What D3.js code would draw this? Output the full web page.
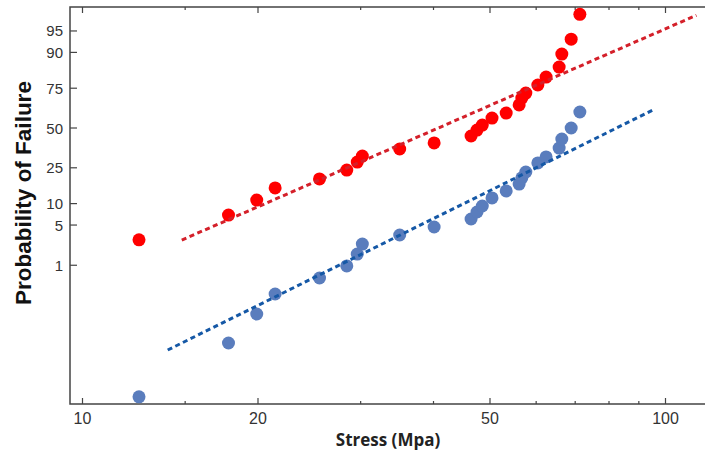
<!DOCTYPE html>
<html>
<head>
<meta charset="utf-8">
<script src="https://cdn.jsdelivr.net/npm/d3@7"></script>
<style>
body { margin: 0; background: #fff; }
svg { display: block; }
</style>
</head>
<body>
<svg id="chart" width="705" height="455"></svg>
<script>
// stress values (Mpa), shared by both series
var stress = [12.5, 17.8, 19.9, 21.4, 25.5, 28.4, 29.6, 30.2, 35.0, 40.1, 46.4, 47.5,
              48.5, 50.4, 53.3, 56.1, 56.7, 57.6, 60.4, 62.4, 65.7, 66.4, 68.9, 71.3];
// probability of failure, percent
var redProb = [2.9, 7.0, 11.1, 15.5, 19.4, 23.8, 28.2, 31.7, 36.1, 40.0, 44.6, 48.6,
               52.0, 56.7, 60.0, 65.2, 69.4, 72.3, 76.7, 80.6, 84.9, 89.5, 93.4, 97.3];
var blueProb = [0.00026, 0.0134, 0.081, 0.245, 0.55, 0.97, 1.63, 2.46, 3.49, 4.67, 6.15, 7.72,
                9.31, 11.8, 14.3, 17.1, 19.9, 22.8, 27.7, 31.2, 36.7, 42.6, 50.0, 60.7];

// fitted lines (end points)
var redFitStress = [14.8, 113];
var redFitProb = [2.88, 97.2];
var blueFitStress = [14.0, 95.9];
var blueFitProb = [0.0084, 62.6];

var yTicks = [1, 5, 10, 25, 50, 75, 90, 95];
var xMajor = [10, 20, 50, 100];
var xMinor = [15, 30, 40, 60, 70, 80, 90];

// inverse normal cdf (Acklam)
function probit(p) {
    var a = [-3.969683028665376e+01, 2.209460984245205e+02, -2.759285104469687e+02, 1.383577518672690e+02, -3.066479806614716e+01, 2.506628277459239e+00];
    var b = [-5.447609879822406e+01, 1.615858368580409e+02, -1.556989798598866e+02, 6.680131188771972e+01, -1.328068155288572e+01];
    var c = [-7.784894002430293e-03, -3.223964580411365e-01, -2.400758277161838e+00, -2.549732539343734e+00, 4.374664141464968e+00, 2.938163982698783e+00];
    var d = [7.784695709041462e-03, 3.224671290700398e-01, 2.445134137171128e+00, 3.754408415090040e+00];
    var plow = 0.02425, q, r;
    if (p < plow) {
        q = Math.sqrt(-2 * Math.log(p));
        return (((((c[0]*q+c[1])*q+c[2])*q+c[3])*q+c[4])*q+c[5]) / ((((d[0]*q+d[1])*q+d[2])*q+d[3])*q+1);
    }
    if (p <= 1 - plow) {
        q = p - 0.5; r = q * q;
        return (((((a[0]*r+a[1])*r+a[2])*r+a[3])*r+a[4])*r+a[5])*q / (((((b[0]*r+b[1])*r+b[2])*r+b[3])*r+b[4])*r+1);
    }
    q = Math.sqrt(-2 * Math.log(1 - p));
    return -(((((c[0]*q+c[1])*q+c[2])*q+c[3])*q+c[4])*q+c[5]) / ((((d[0]*q+d[1])*q+d[2])*q+d[3])*q+1);
}

var svg = d3.select("#chart");
var plotLeft = 70, plotTop = 7, plotBottom = 404, plotRight = 720;

var x = d3.scaleLog().domain([10, 100]).range([82.5, 665.5]);
var yz = d3.scaleLinear().domain([-4.678, 2.051]).range([plotBottom, plotTop]);
function y(pct) { return yz(probit(pct / 100)); }

var axisColor = "#444";

// frame
svg.append("path")
    .attr("d", "M" + plotRight + "," + plotTop + "H" + plotLeft + "V" + plotBottom + "H" + plotRight)
    .attr("fill", "none")
    .attr("stroke", axisColor)
    .attr("stroke-width", 1.5);

// x ticks bottom and top
function xTicks(vals, len) {
    svg.selectAll(null).data(vals).enter().append("line")
        .attr("x1", function(d) { return x(d); }).attr("x2", function(d) { return x(d); })
        .attr("y1", plotBottom).attr("y2", plotBottom - len)
        .attr("stroke", axisColor).attr("stroke-width", 1.2);
    svg.selectAll(null).data(vals).enter().append("line")
        .attr("x1", function(d) { return x(d); }).attr("x2", function(d) { return x(d); })
        .attr("y1", plotTop).attr("y2", plotTop + len)
        .attr("stroke", axisColor).attr("stroke-width", 1.2);
}
xTicks(xMajor, 6);
xTicks(xMinor, 3);

svg.selectAll(null).data(xMajor).enter().append("text")
    .attr("x", function(d) { return x(d); })
    .attr("y", 424)
    .attr("text-anchor", "middle")
    .attr("font-family", "Liberation Sans, Arial, sans-serif")
    .attr("font-size", 16)
    .attr("fill", "#333")
    .text(function(d) { return d; });

// y ticks
svg.selectAll(null).data(yTicks).enter().append("line")
    .attr("x1", plotLeft).attr("x2", plotLeft + 7)
    .attr("y1", function(d) { return y(d); }).attr("y2", function(d) { return y(d); })
    .attr("stroke", axisColor).attr("stroke-width", 1.2);

svg.selectAll(null).data(yTicks).enter().append("text")
    .attr("x", 63)
    .attr("y", function(d) { return y(d) + 5.5; })
    .attr("text-anchor", "end")
    .attr("font-family", "Liberation Sans, Arial, sans-serif")
    .attr("font-size", 15)
    .attr("fill", "#333")
    .text(function(d) { return d; });

// axis titles
svg.append("text")
    .attr("x", 388).attr("y", 446)
    .attr("text-anchor", "middle")
    .attr("font-family", "Open Sans, sans-serif")
    .attr("font-weight", "bold")
    .attr("font-size", 17)
    .attr("fill", "#222")
    .text("Stress (Mpa)");

svg.append("text")
    .attr("transform", "translate(31,193) rotate(-90)")
    .attr("text-anchor", "middle")
    .attr("font-family", "Liberation Sans, Arial, sans-serif")
    .attr("font-weight", "bold")
    .attr("font-size", 22.5)
    .attr("fill", "#111")
    .text("Probability of Failure");

// points
function points(vals, color) {
    svg.append("g").selectAll("circle").data(vals).enter().append("circle")
        .attr("cx", function(d, i) { return x(stress[i]); })
        .attr("cy", function(d) { return y(d); })
        .attr("r", 6.5)
        .attr("fill", color);
}
points(redProb, "#ff0000");
points(blueProb, "#5a7dbd");

// fitted lines
var line = d3.line()
    .x(function(d) { return x(d[0]); })
    .y(function(d) { return y(d[1]); });

function fit(s, p, color) {
    svg.append("path")
        .datum(d3.zip(s, p))
        .attr("d", line)
        .attr("fill", "none")
        .attr("stroke", color)
        .attr("stroke-width", 3)
        .attr("stroke-dasharray", "5,3.5");
}
fit(redFitStress, redFitProb, "#d4202a");
fit(blueFitStress, blueFitProb, "#1558a6");
</script>
</body>
</html>
